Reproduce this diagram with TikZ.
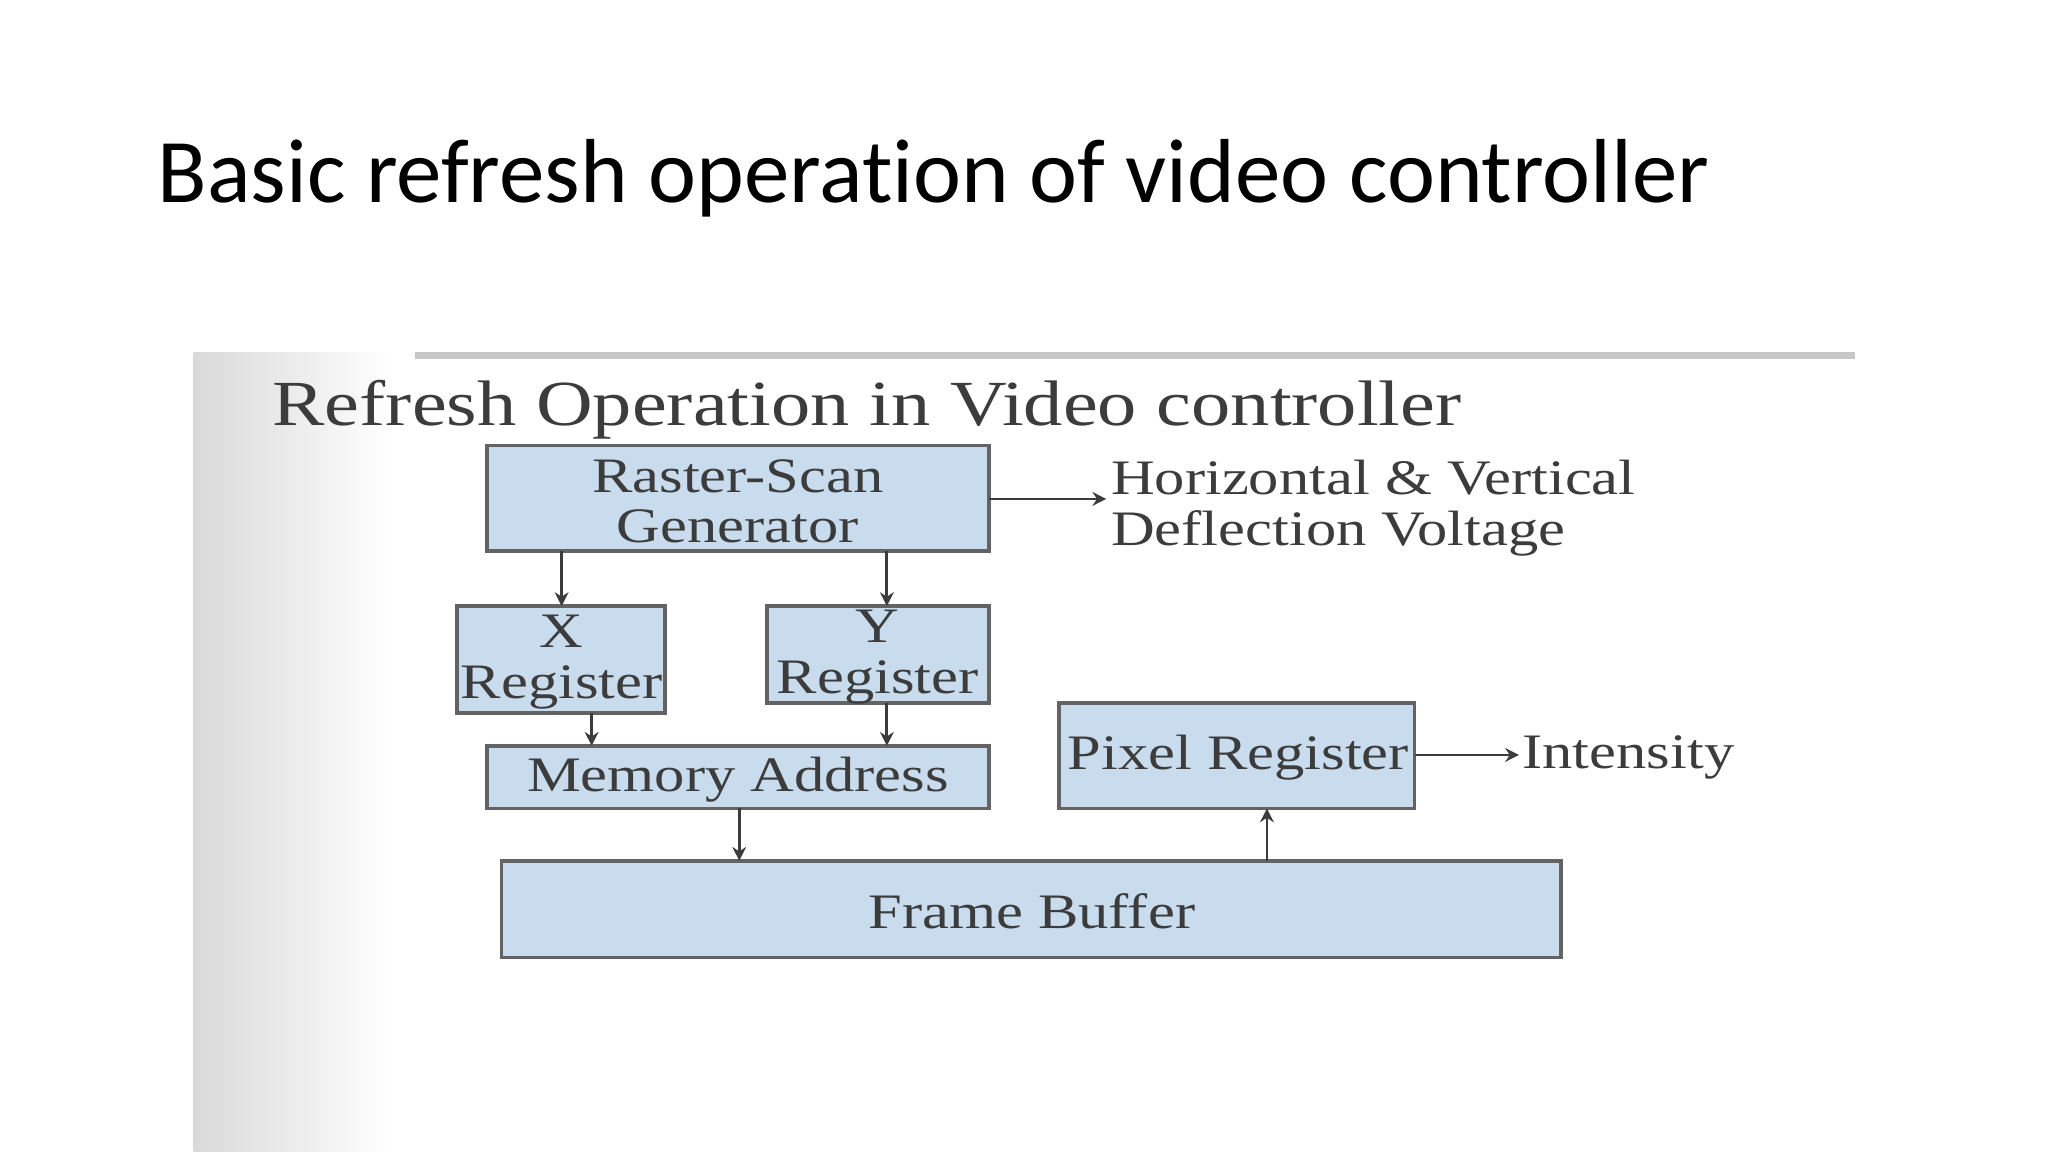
\documentclass[tikz,border=0pt]{standalone}
\usepackage{fontspec}
\setmainfont{Liberation Serif}[FakeStretch=1.22]
\newfontfamily\titlefont{Carlito}[Ligatures=NoCommon]
\usetikzlibrary{arrows.meta}
\definecolor{boxblue}{RGB}{200,220,238}
\definecolor{txt}{RGB}{60,60,60}
\begin{document}
\begin{tikzpicture}[x=0.01cm,y=-0.01cm,
  blk/.style={draw=txt!80,fill=boxblue,line width=0.8pt},
  lbl/.style={text=txt,font=\fontsize{10.8}{11}\selectfont,inner sep=0pt,align=center},
  arr/.style={-{Stealth[length=3pt,width=3pt]},draw=txt,line width=0.6pt}]
\useasboundingbox (0,0) rectangle (1568,882);
\fill[white] (0,0) rectangle (1568,882);
\node[anchor=base west,inner sep=0pt,font=\titlefont\fontsize{19.8}{24}\selectfont] (title) at (120,155) {Basic refresh operation of video controller};
% panel
\shade[left color=black!15,right color=white] (148,270) rectangle (300,882);
\draw[black!22,line width=1.5pt] (318,272) -- (1420,272);
\node[anchor=base west,inner sep=0pt,text=txt,font=\fontsize{14}{16}\selectfont] (head) at (208,326) {Refresh Operation in Video controller};
% boxes
\draw[blk] (373,341) rectangle (757,422);
\node[lbl] (rs) at (565,384) {Raster-Scan\\Generator};
\draw[blk] (350,464) rectangle (509,546);
\node[lbl] (xr) at (430,507) {X\\Register};
\draw[blk] (587,464) rectangle (757,538);
\node[lbl] (yr) at (672,503) {Y\\Register};
\draw[blk] (373,571) rectangle (757,619);
\node[lbl] (ma) at (565,597) {Memory Address};
\draw[blk] (811,538) rectangle (1083,619);
\node[lbl] (pr) at (948,580) {Pixel Register};
\draw[blk] (384,659) rectangle (1195,733);
\node[lbl] (fb) at (790,698) {Frame Buffer};
\node[lbl,align=left,anchor=west] (hv) at (850,389) {Horizontal \& Vertical\\Deflection Voltage};
\node[lbl,anchor=west] (in) at (1165,580) {Intensity};
\coordinate (a1) at (430,422); \coordinate (a2) at (430,464);
\coordinate (b1) at (679,422); \coordinate (b2) at (679,464);
\coordinate (c1) at (453,546); \coordinate (c2) at (453,571);
\coordinate (d1) at (679,538); \coordinate (d2) at (679,571);
\coordinate (e1) at (566,619); \coordinate (e2) at (566,659);
\coordinate (f1) at (970,659); \coordinate (f2) at (970,619);
\coordinate (g1) at (757,382); \coordinate (g2) at (847,382);
\coordinate (h1) at (1083,578); \coordinate (h2) at (1163,578);
\foreach \s/\t in {a1/a2,b1/b2,c1/c2,d1/d2,e1/e2,f1/f2,g1/g2,h1/h2}
  \draw[arr] (\s) -- (\t);
\end{tikzpicture}
\end{document}
